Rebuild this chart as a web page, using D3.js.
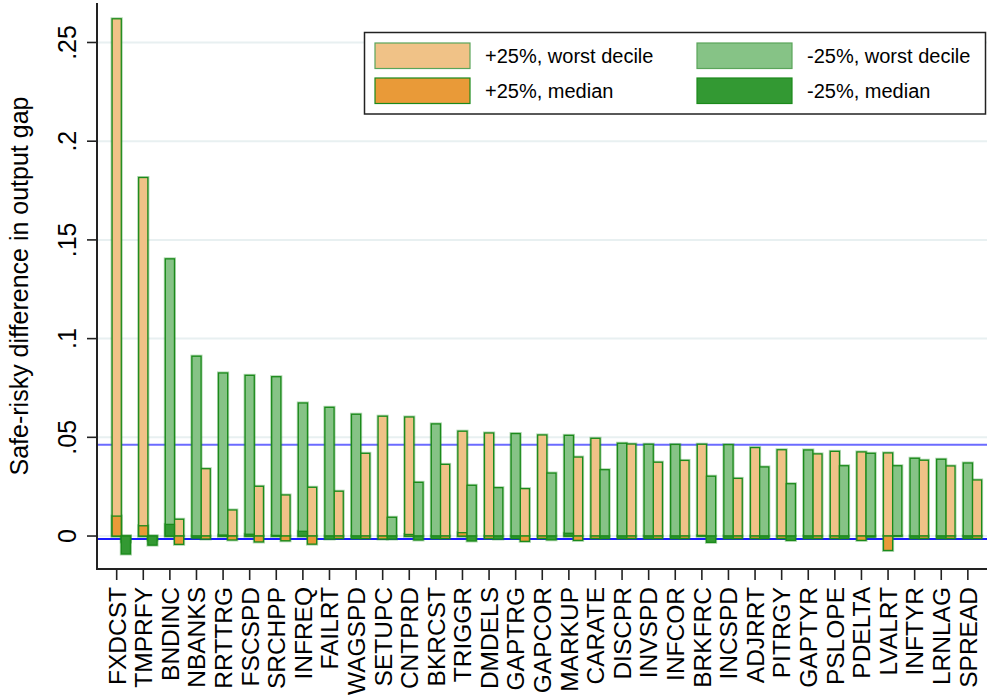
<!DOCTYPE html>
<html>
<head>
<meta charset="utf-8">
<script src="https://cdn.jsdelivr.net/npm/d3@7"></script>
<style>
  html, body { margin: 0; padding: 0; background: #fff; }
  svg { display: block; font-family: "Liberation Sans", Arial, sans-serif; }
</style>
</head>
<body>
<svg id="chart" width="987" height="698"></svg>
<script>
const categories = ["FXDCST","TMPRFY","BNDINC","NBANKS","RRTTRG","FSCSPD","SRCHPP","INFREQ","FAILRT","WAGSPD","SETUPC","CNTPRD","BKRCST","TRIGGR","DMDELS","GAPTRG","GAPCOR","MARKUP","CARATE","DISCPR","INVSPD","INFCOR","BRKFRC","INCSPD","ADJRRT","PITRGY","GAPTYR","PSLOPE","PDELTA","LVALRT","INFTYR","LRNLAG","SPREAD"];

// +25% shock
const plusWorst  = [0.262, 0.1816, 0.0085, 0.0341, 0.0132, 0.0252, 0.0208, 0.0247, 0.0227, 0.0419, 0.0607, 0.0603, 0.0363, 0.0531, 0.0522, 0.0240, 0.0512, 0.0400, 0.0495, 0.0466, 0.0374, 0.0383, 0.0465, 0.0292, 0.0448, 0.0437, 0.0416, 0.0429, 0.0426, 0.0421, 0.0384, 0.0355, 0.0284];
const plusMedian = [0.0101, 0.0052, -0.0042, -0.0015, -0.0020, -0.0030, -0.0024, -0.0041, -0.0012, -0.0012, -0.0015, 0.0008, -0.0012, 0.0017, -0.0012, -0.0027, -0.0012, -0.0022, -0.0012, -0.0012, -0.0012, -0.0012, 0.0003, -0.0012, -0.0012, -0.0012, -0.0012, -0.0012, -0.0022, -0.0073, -0.0012, -0.0012, -0.0012];
// -25% shock
const minusWorst  = [-0.0030, -0.0020, 0.1404, 0.0911, 0.0826, 0.0814, 0.0807, 0.0674, 0.0652, 0.0617, 0.0095, 0.0272, 0.0568, 0.0257, 0.0245, 0.0519, 0.0319, 0.0510, 0.0336, 0.0470, 0.0465, 0.0464, 0.0303, 0.0463, 0.0350, 0.0265, 0.0436, 0.0356, 0.0419, 0.0356, 0.0394, 0.0389, 0.0370];
const minusMedian = [-0.0091, -0.0046, 0.0059, -0.0010, 0.0005, 0.0009, 0.0003, 0.0024, -0.0015, -0.0012, -0.0015, -0.0020, -0.0012, -0.0025, -0.0015, -0.0012, -0.0019, 0.0014, -0.0012, -0.0012, -0.0012, -0.0012, -0.0032, -0.0012, -0.0012, -0.0022, -0.0012, -0.0012, -0.0005, 0.0002, -0.0012, -0.0012, -0.0012];

const yTicks = [0, 0.05, 0.1, 0.15, 0.2, 0.25];
const yTickLabels = ["0", ".05", ".1", ".15", ".2", ".25"];
const refLines = [0.0463, -0.0015];
const legendLabels = ["+25%, worst decile", "+25%, median", "-25%, worst decile", "-25%, median"];
const yTitle = "Safe-risky difference in output gap";

const colors = {
  plusWorst: "#f0c287", plusMedian: "#e99a38",
  minusWorst: "#86c386", minusMedian: "#339933",
  outline: "#1b8a1b"
};

const svg = d3.select("#chart");
const L = 97, R = 987, T = 3, B = 569;
const x = d3.scaleLinear().domain([-0.74, 32.72]).range([L, R]);
const y = d3.scaleLinear().domain([-0.0167, 0.270]).range([B, T]);
const bw = 0.345;

// gridlines
svg.append("g").selectAll("line").data(yTicks).join("line")
  .attr("x1", L).attr("x2", R)
  .attr("y1", d => y(d)).attr("y2", d => y(d))
  .attr("stroke", "#e8f0f1").attr("stroke-width", 2);

// reference lines
svg.append("line").attr("x1", L).attr("x2", R)
  .attr("y1", y(refLines[0])).attr("y2", y(refLines[0]))
  .attr("stroke", "#6b6bff").attr("stroke-width", 2);
svg.append("line").attr("x1", L).attr("x2", R)
  .attr("y1", y(refLines[1])).attr("y2", y(refLines[1]))
  .attr("stroke", "#1a1aff").attr("stroke-width", 2.2);

// bars
const barData = [];
categories.forEach((c, i) => {
  const plusLeft = plusWorst[i] >= minusWorst[i];
  const plusPos = plusLeft ? i : i + bw;
  const minusPos = plusLeft ? i + bw : i;
  barData.push({pos: plusPos, v: plusWorst[i], fill: colors.plusWorst});
  barData.push({pos: plusPos, v: plusMedian[i], fill: colors.plusMedian});
  barData.push({pos: minusPos, v: minusWorst[i], fill: colors.minusWorst});
  barData.push({pos: minusPos, v: minusMedian[i], fill: colors.minusMedian});
});
const gb = svg.append("g");
gb.selectAll("rect.halo").data(barData).join("rect")
  .attr("class", "halo")
  .attr("x", d => x(d.pos - bw / 2))
  .attr("width", d => x(bw) - x(0))
  .attr("y", d => y(Math.max(0, d.v)))
  .attr("height", d => Math.abs(y(d.v) - y(0)))
  .attr("fill", d => d.fill)
  .attr("stroke", colors.outline).attr("stroke-opacity", 0.35)
  .attr("stroke-width", 3);
gb.selectAll("rect.bar").data(barData).join("rect")
  .attr("class", "bar")
  .attr("x", d => x(d.pos - bw / 2))
  .attr("width", d => x(bw) - x(0))
  .attr("y", d => y(Math.max(0, d.v)))
  .attr("height", d => Math.abs(y(d.v) - y(0)))
  .attr("fill", d => d.fill)
  .attr("stroke", colors.outline)
  .attr("stroke-width", 1.3);

// y axis
svg.append("line").attr("x1", L).attr("x2", L).attr("y1", T).attr("y2", B + 1)
  .attr("stroke", "#222").attr("stroke-width", 2);
const gy = svg.append("g");
gy.selectAll("line").data(yTicks).join("line")
  .attr("x1", L - 10).attr("x2", L).attr("y1", d => y(d)).attr("y2", d => y(d))
  .attr("stroke", "#222").attr("stroke-width", 1.6);
gy.selectAll("text").data(yTicks).join("text")
  .attr("transform", d => `translate(76,${y(d)}) rotate(-90)`)
  .attr("text-anchor", "middle")
  .attr("font-size", 25)
  .attr("fill", "#000")
  .text((d, i) => yTickLabels[i]);
svg.append("text")
  .attr("transform", `translate(28,${286}) rotate(-90)`)
  .attr("text-anchor", "middle")
  .attr("font-size", 25)
  .text(yTitle);

// x axis
svg.append("line").attr("x1", L - 1).attr("x2", R).attr("y1", B).attr("y2", B)
  .attr("stroke", "#222").attr("stroke-width", 2);
const gx = svg.append("g");
gx.selectAll("line").data(categories).join("line")
  .attr("x1", (d, i) => x(i)).attr("x2", (d, i) => x(i))
  .attr("y1", B).attr("y2", B + 11)
  .attr("stroke", "#222").attr("stroke-width", 1.6);
gx.selectAll("text").data(categories).join("text")
  .attr("transform", (d, i) => `translate(${x(i)},587) rotate(-90)`)
  .attr("text-anchor", "end")
  .attr("dy", "0.36em")
  .attr("font-size", 24.5)
  .text(d => d);

// legend
const lg = svg.append("g");
lg.append("rect").attr("x", 364.5).attr("y", 32.5).attr("width", 621).attr("height", 81.5)
  .attr("fill", "#fff").attr("stroke", "#222").attr("stroke-width", 1.5);
const legendItems = [
  {x: 375, y: 43, fill: colors.plusWorst, stroke: "#5aa55a"},
  {x: 375, y: 78, fill: colors.plusMedian, stroke: "#1b8a1b"},
  {x: 697, y: 43, fill: colors.minusWorst, stroke: "#5aa55a"},
  {x: 697, y: 78, fill: colors.minusMedian, stroke: "#1b8a1b"}
];
legendItems.forEach((it, i) => {
  lg.append("rect").attr("x", it.x).attr("y", it.y).attr("width", 95).attr("height", 25.5)
    .attr("fill", it.fill).attr("stroke", it.stroke).attr("stroke-width", 1.2);
  lg.append("text").attr("x", it.x + 110).attr("y", it.y + 19.5)
    .attr("font-size", 20).text(legendLabels[i]);
});
</script>
</body>
</html>
